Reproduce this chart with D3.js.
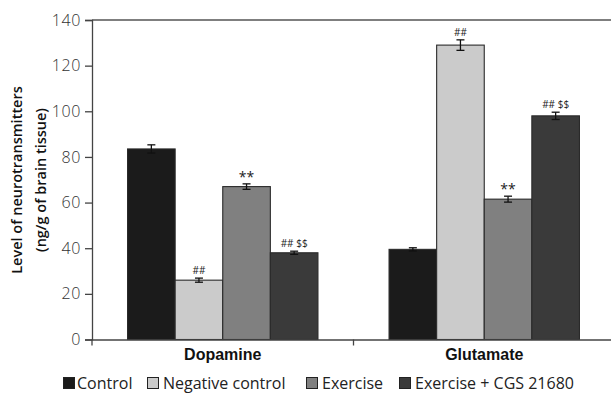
<!DOCTYPE html>
<html>
<head>
<meta charset="utf-8">
<script src="https://cdn.jsdelivr.net/npm/d3@7"></script>
<style>
  html, body { margin: 0; padding: 0; background: #fff; }
  svg { display: block; font-family: "Open Sans", Lato, sans-serif; }
</style>
</head>
<body>
<svg id="chart" width="611" height="398"></svg>
<script>
// Neurotransmitter levels per group
const categories = ["Dopamine", "Glutamate"];
const groups = ["Control", "Negative control", "Exercise", "Exercise + CGS 21680"];
const colors = ["#1b1b1b", "#cbcbcb", "#808080", "#3a3a3a"];
const dopamine = [83.5, 26, 67, 38];
const dopamineErr = [1.8, 0.9, 1.2, 0.7];
const glutamate = [39.5, 129, 61.5, 98];
const glutamateErr = [0.7, 2.3, 1.3, 1.6];
const dopamineMarks = ["", "##", "**", "## $$"];
const glutamateMarks = ["", "##", "**", "## $$"];
const yTicks = [0, 20, 40, 60, 80, 100, 120, 140];

const values = [dopamine, glutamate];
const errors = [dopamineErr, glutamateErr];
const marks = [dopamineMarks, glutamateMarks];

const svg = d3.select("#chart");
const mLeft = 92, mRight = 615, mTop = 20, mBottom = 339.5;

const x0 = d3.scaleBand().domain(categories).range([mLeft, mRight]).paddingInner(0).paddingOuter(0);
const x1 = d3.scaleBand().domain(groups).range([0, x0.bandwidth()]).paddingInner(0).paddingOuter(0.747);
const y = d3.scaleLinear().domain([0, 140]).range([mBottom, mTop]);

// frame top line
svg.append("line")
  .attr("x1", mLeft).attr("x2", mRight).attr("y1", mTop).attr("y2", mTop)
  .attr("stroke", "#555").attr("stroke-width", 1.3);

// bars
const cat = svg.selectAll("g.cat").data(categories).join("g")
  .attr("class", "cat")
  .attr("transform", d => `translate(${x0(d)},0)`);

cat.each(function(c, ci) {
  const g = d3.select(this);
  groups.forEach((grp, gi) => {
    const v = values[ci][gi];
    const e = errors[ci][gi];
    const bx = x1(grp), bw = x1.bandwidth();
    g.append("rect")
      .attr("x", bx).attr("y", y(v))
      .attr("width", bw).attr("height", y(0) - y(v))
      .attr("fill", colors[gi])
      .attr("stroke", "#2a2a2a").attr("stroke-width", 1.1);
    const cx = bx + bw / 2;
    // error bar
    const eb = g.append("g").attr("stroke", "#111").attr("stroke-width", 1.3);
    eb.append("line").attr("x1", cx).attr("x2", cx).attr("y1", y(v - e)).attr("y2", y(v + e));
    eb.append("line").attr("x1", cx - 4).attr("x2", cx + 4).attr("y1", y(v + e)).attr("y2", y(v + e));
    eb.append("line").attr("x1", cx - 4).attr("x2", cx + 4).attr("y1", y(v - e)).attr("y2", y(v - e));
    const m = marks[ci][gi];
    if (m) {
      const star = m.includes("*");
      g.append("text")
        .attr("x", cx).attr("y", y(v + e) - (star ? 2 : 4))
        .attr("text-anchor", "middle")
        .attr("font-size", star ? 14 : 10)
        .attr("fill", "#222")
        .text(m);
    }
  });
});

// y axis
const yAxis = svg.append("g")
  .attr("transform", `translate(${mLeft},0)`)
  .call(d3.axisLeft(y).tickValues(yTicks).tickSize(7).tickPadding(4));
yAxis.select(".domain").attr("stroke", "#444").attr("stroke-width", 1.3);
yAxis.selectAll(".tick line").attr("stroke", "#444").attr("stroke-width", 1.3);
yAxis.selectAll(".tick text").attr("font-size", 16).attr("fill", "#333")
  .attr("letter-spacing", 0.6)
  .attr("font-family", "'Open Sans', sans-serif").attr("font-weight", 300);

// x axis
const xAxis = svg.append("g")
  .attr("transform", `translate(0,${mBottom})`)
  .call(d3.axisBottom(x0).tickSize(0).tickPadding(9));
xAxis.select(".domain").attr("stroke", "#444").attr("stroke-width", 1.3);
xAxis.selectAll(".tick text").attr("font-size", 16).attr("font-weight", 600).attr("fill", "#111");
// category separators
svg.append("g").selectAll("line").data([mLeft, x0("Glutamate")]).join("line")
  .attr("x1", d => d).attr("x2", d => d)
  .attr("y1", mBottom).attr("y2", mBottom + 6)
  .attr("stroke", "#444").attr("stroke-width", 1.3);

// y label
const yl = svg.append("text")
  .attr("transform", "translate(0,180) rotate(-90)")
  .attr("text-anchor", "middle")
  .attr("font-size", 14.5).attr("font-weight", 600).attr("fill", "#111");
yl.append("tspan").attr("x", 0).attr("y", 22).text("Level of neurotransmitters");
yl.append("tspan").attr("x", 0).attr("y", 46).text("(ng/g of brain tissue)");

// legend
const legendX = [63, 147, 306, 399];
const legend = svg.append("g").selectAll("g").data(groups).join("g")
  .attr("transform", (d, i) => `translate(${legendX[i]},377)`);
legend.append("rect")
  .attr("x", 0.5).attr("y", 0.5).attr("width", 11).attr("height", 11)
  .attr("fill", (d, i) => colors[i])
  .attr("stroke", "#222").attr("stroke-width", 1);
legend.append("text")
  .attr("x", (d, i) => i === 0 ? 14 : 16).attr("y", 11.5)
  .attr("font-size", 16).attr("fill", "#222")
  .text(d => d);
</script>
</body>
</html>
